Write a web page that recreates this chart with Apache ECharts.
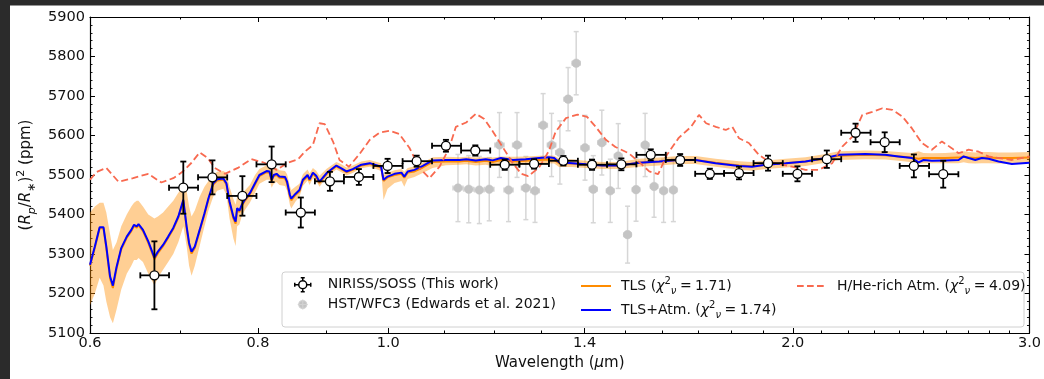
<!DOCTYPE html>
<html><head><meta charset="utf-8">
<script src="https://cdn.jsdelivr.net/npm/echarts@6/dist/echarts.min.js"></script>
<style>html,body{margin:0;padding:0;background:#fff;}#chart{width:1044px;height:379px;}</style>
</head><body><div id="chart"></div>
<script>
// ---------------- data ----------------
const xTickMajor = [0.6, 0.8, 1.0, 1.4, 2.0, 3.0];
const xTickMinor = [0.7, 0.9, 1.1, 1.2, 1.3, 1.5, 1.6, 1.7, 1.8, 1.9, 2.1, 2.2, 2.3, 2.4, 2.5, 2.6, 2.7, 2.8, 2.9];

const nirissWl = [0.670, 0.704, 0.740, 0.779, 0.819, 0.861, 0.905, 0.951, 0.999, 1.050, 1.104, 1.161, 1.221, 1.284, 1.350, 1.418, 1.491, 1.568, 1.649, 1.735, 1.824, 1.917, 2.016, 2.120, 2.227, 2.341, 2.461, 2.588];
const nirissLo = [0.654, 0.687, 0.722, 0.759, 0.798, 0.839, 0.882, 0.927, 0.975, 1.025, 1.078, 1.133, 1.191, 1.252, 1.317, 1.384, 1.455, 1.530, 1.609, 1.692, 1.778, 1.870, 1.966, 2.067, 2.173, 2.285, 2.402, 2.526];
const nirissHi = [0.687, 0.722, 0.759, 0.798, 0.839, 0.882, 0.927, 0.975, 1.025, 1.078, 1.133, 1.191, 1.252, 1.317, 1.384, 1.455, 1.530, 1.609, 1.692, 1.778, 1.870, 1.966, 2.067, 2.173, 2.285, 2.402, 2.526, 2.656];
const nirissDepth = [5246, 5468, 5494, 5447, 5527, 5405, 5484, 5495, 5523, 5535, 5574, 5562, 5526, 5528, 5536, 5526, 5527, 5551, 5538, 5503, 5505, 5530, 5503, 5540, 5607, 5583, 5523, 5502];
const nirissErr = [86, 66, 43, 50, 45, 38, 24, 20, 18, 14, 15, 13, 13, 12, 12, 13, 15, 14, 15, 13, 16, 19, 19, 22, 23, 25, 29, 34];

const hstWl = [1.127, 1.148, 1.169, 1.189, 1.210, 1.229, 1.247, 1.266, 1.286, 1.304, 1.323, 1.342, 1.361, 1.380, 1.401, 1.421, 1.442, 1.463, 1.483, 1.507, 1.529, 1.553, 1.577, 1.603, 1.630];
const hstDepth = [5467, 5464, 5462, 5464, 5576, 5462, 5576, 5467, 5460, 5626, 5576, 5557, 5692, 5783, 5569, 5464, 5582, 5460, 5548, 5349, 5463, 5576, 5471, 5460, 5462];
const hstErr = [85, 85, 85, 80, 82, 80, 82, 80, 80, 80, 80, 80, 80, 80, 82, 85, 82, 80, 82, 72, 80, 80, 78, 80, 80];
const hstHalfWidth = 0.0095;

const modelWl = [0.600,0.605,0.610,0.614,0.617,0.621,0.624,0.628,0.633,0.639,0.644,0.647,0.650,0.652,0.657,0.663,0.670,0.674,0.680,0.686,0.692,0.698,0.704,0.708,0.711,0.714,0.718,0.724,0.730,0.735,0.741,0.746,0.754,0.758,0.762,0.767,0.770,0.772,0.775,0.778,0.782,0.789,0.796,0.802,0.812,0.816,0.819,0.822,0.826,0.830,0.838,0.841,0.845,0.847,0.853,0.859,0.864,0.871,0.874,0.879,0.884,0.889,0.900,0.915,0.923,0.931,0.941,0.955,0.969,0.988,0.992,0.999,1.011,1.023,1.028,1.034,1.046,1.061,1.079,1.104,1.130,1.143,1.162,1.182,1.196,1.213,1.238,1.266,1.295,1.317,1.329,1.340,1.371,1.403,1.443,1.486,1.537,1.591,1.645,1.693,1.752,1.824,1.865,1.909,1.976,2.044,2.115,2.164,2.265,2.343,2.397,2.453,2.481,2.502,2.538,2.597,2.657,2.680,2.703,2.734,2.765,2.797,2.845,2.911,3.000];
const atmFit = [5273,5319,5368,5368,5319,5243,5220,5268,5315,5344,5361,5374,5370,5376,5361,5332,5291,5306,5323,5344,5366,5395,5437,5370,5328,5306,5319,5361,5403,5441,5479,5489,5491,5479,5433,5395,5382,5416,5410,5424,5437,5454,5479,5500,5510,5509,5488,5500,5503,5496,5495,5483,5450,5440,5452,5462,5488,5500,5489,5506,5498,5483,5505,5524,5517,5509,5515,5526,5530,5521,5488,5496,5503,5506,5496,5509,5513,5523,5537,5538,5538,5540,5537,5540,5537,5543,5538,5540,5543,5545,5543,5532,5530,5527,5524,5524,5531,5534,5538,5538,5530,5523,5521,5526,5530,5534,5543,5551,5553,5551,5547,5543,5532,5538,5536,5537,5538,5547,5543,5538,5543,5541,5534,5528,5531];
const tlsFit = [5270,5316,5365,5365,5315,5238,5214,5264,5312,5341,5358,5371,5367,5373,5358,5328,5287,5302,5320,5341,5363,5392,5433,5365,5323,5301,5315,5358,5400,5438,5476,5486,5488,5476,5429,5390,5377,5412,5406,5421,5434,5451,5476,5497,5507,5506,5485,5497,5500,5493,5492,5479,5446,5436,5449,5459,5485,5497,5486,5503,5495,5480,5503,5522,5515,5507,5513,5524,5528,5519,5485,5494,5500,5503,5493,5506,5509,5519,5533,5534,5534,5536,5533,5536,5533,5538,5534,5536,5538,5539,5538,5530,5529,5527,5524,5524,5531,5534,5538,5538,5531,5524,5522,5526,5530,5534,5542,5549,5551,5550,5547,5544,5541,5543,5543,5543,5544,5546,5544,5543,5544,5544,5543,5543,5544];
const tlsHi = [5405,5420,5430,5430,5405,5350,5310,5330,5370,5400,5420,5430,5435,5435,5420,5400,5390,5395,5405,5420,5435,5455,5470,5460,5420,5395,5410,5445,5470,5485,5500,5508,5510,5505,5470,5440,5425,5445,5440,5450,5460,5475,5500,5515,5525,5524,5512,5516,5518,5512,5510,5502,5472,5462,5470,5478,5502,5514,5504,5518,5511,5498,5516,5533,5527,5519,5524,5534,5538,5530,5500,5506,5512,5515,5508,5518,5522,5531,5545,5546,5545,5546,5544,5545,5544,5547,5546,5547,5549,5550,5549,5542,5539,5536,5533,5533,5541,5544,5548,5548,5541,5535,5533,5537,5541,5545,5553,5560,5562,5561,5558,5556,5560,5556,5555,5556,5558,5560,5558,5557,5558,5558,5557,5557,5558];
const tlsLo = [5170,5200,5240,5220,5180,5140,5125,5160,5210,5250,5270,5285,5285,5290,5280,5250,5220,5240,5260,5280,5300,5330,5370,5320,5270,5245,5270,5320,5370,5410,5445,5460,5465,5450,5390,5340,5320,5370,5375,5395,5410,5430,5455,5478,5488,5488,5468,5478,5482,5475,5472,5460,5425,5415,5432,5445,5472,5486,5475,5492,5485,5470,5494,5514,5507,5499,5505,5517,5521,5510,5437,5465,5480,5485,5470,5490,5495,5505,5518,5525,5526,5527,5524,5526,5522,5528,5526,5527,5529,5530,5529,5520,5520,5518,5515,5515,5521,5524,5528,5528,5521,5513,5511,5515,5519,5523,5531,5538,5540,5539,5536,5532,5528,5530,5530,5530,5530,5532,5530,5529,5530,5530,5529,5529,5530];

const hheWl = [0.600,0.607,0.617,0.630,0.646,0.663,0.678,0.692,0.703,0.714,0.724,0.734,0.743,0.756,0.773,0.791,0.809,0.826,0.842,0.857,0.867,0.879,0.889,0.897,0.910,0.920,0.935,0.952,0.969,0.985,1.002,1.019,1.037,1.055,1.073,1.092,1.110,1.123,1.143,1.162,1.179,1.197,1.216,1.238,1.256,1.271,1.295,1.317,1.332,1.356,1.383,1.406,1.427,1.452,1.476,1.510,1.537,1.564,1.588,1.612,1.645,1.680,1.703,1.724,1.753,1.783,1.803,1.824,1.855,1.887,1.920,1.964,1.997,2.044,2.091,2.140,2.177,2.215,2.253,2.292,2.332,2.372,2.413,2.453,2.495,2.538,2.582,2.626,2.657,2.703,2.750,2.797,2.845,2.911,3.000];
const hheFit = [5488,5508,5518,5483,5492,5503,5481,5492,5508,5531,5557,5543,5518,5503,5518,5540,5531,5513,5531,5540,5559,5576,5631,5629,5584,5538,5521,5553,5589,5607,5612,5604,5569,5518,5492,5521,5568,5622,5633,5655,5642,5609,5572,5530,5503,5497,5519,5561,5609,5644,5653,5647,5622,5589,5571,5555,5533,5509,5502,5551,5594,5622,5652,5631,5622,5614,5622,5593,5581,5551,5534,5526,5521,5513,5513,5530,5572,5597,5652,5660,5669,5665,5648,5618,5581,5564,5585,5568,5555,5564,5559,5547,5543,5538,5547];

const yTitle = '({it|R}{sub|p}/{it|R}{subn|∗}){sup|2} (ppm)';
const xTitle = 'Wavelength ({it|μ}m)';
const nameNiriss = 'NIRISS/SOSS (This work)';
const nameHst = 'HST/WFC3 (Edwards et al. 2021)';
const nameTls = 'TLS';
const nameAtm = 'TLS+Atm.';
const nameHhe = 'H/He-rich Atm.';
const chiTls = '1.71', chiAtm = '1.74', chiHhe = '4.09';

// ---------------- chart ----------------
const FONT = 'DejaVu Sans';
const TXT = '#111';
const chart = echarts.init(document.getElementById('chart'), null, {renderer: 'canvas'});

function errRender(o) {
  return function (params, api) {
    const y = api.value(1);
    const c = api.coord([api.value(0), y]);
    const l = api.coord([api.value(2), y])[0];
    const r = api.coord([api.value(3), y])[0];
    const b = api.coord([api.value(0), api.value(4)])[1];
    const t = api.coord([api.value(0), api.value(5)])[1];
    const s = {stroke: o.bar, lineWidth: o.lw};
    return {type: 'group', children: [
      {type: 'line', shape: {x1: l, y1: c[1], x2: r, y2: c[1]}, style: s},
      {type: 'line', shape: {x1: c[0], y1: t, x2: c[0], y2: b}, style: s},
      {type: 'line', shape: {x1: l, y1: c[1] - o.cap, x2: l, y2: c[1] + o.cap}, style: s},
      {type: 'line', shape: {x1: r, y1: c[1] - o.cap, x2: r, y2: c[1] + o.cap}, style: s},
      {type: 'line', shape: {x1: c[0] - o.cap, y1: t, x2: c[0] + o.cap, y2: t}, style: s},
      {type: 'line', shape: {x1: c[0] - o.cap, y1: b, x2: c[0] + o.cap, y2: b}, style: s},
      {type: 'circle', shape: {cx: c[0], cy: c[1], r: o.r}, style: {fill: o.fill, stroke: o.edge, lineWidth: o.ew}}
    ]};
  };
}

const richBase = {
  it: {fontFamily: FONT, fontStyle: 'italic', fontSize: 14, color: TXT, lineHeight: 20},
  sup: {fontFamily: FONT, fontSize: 10, color: TXT, lineHeight: 10, verticalAlign: 'top'},
  sub: {fontFamily: FONT, fontStyle: 'italic', fontSize: 10, color: TXT, lineHeight: 10, verticalAlign: 'bottom'}
};
const legendText = {};
legendText[nameTls] = nameTls + ' ({it|χ}{sup|2}{sub|ν}\u2005=\u2005' + chiTls + ')';
legendText[nameAtm] = nameAtm + ' ({it|χ}{sup|2}{sub|ν}\u2005=\u2005' + chiAtm + ')';
legendText[nameHhe] = nameHhe + ' ({it|χ}{sup|2}{sub|ν}\u2005=\u2005' + chiHhe + ')';

const nirissIcon = 'path://M0,7L0.01,7M34.99,7L35,7M7,7H11M19,7H23M15,0V3M15,11V14M7,5V9M23,5V9M13,0H17M13,14H17M19,7A4,4,0,1,1,11,7A4,4,0,1,1,19,7Z';
const hstIcon = 'path://M0,7L0.01,7M34.99,7L35,7M10,7H20M15,2V12M19,7A4,4,0,1,1,11,7A4,4,0,1,1,19,7Z';
const lineIcon = 'path://M0,0H30V2H0Z M34.99,0L35,0';
const dashIcon = 'path://M0,0H6.7V2H0Z M10,0H16.7V2H10Z M20,0H26.7V2H20Z M34.99,0L35,0';

function xAx(pos, vals, len, labels, line) {
  return {
    type: 'log', logBase: 10, min: 0.6, max: 3.0, position: pos, gridIndex: 0,
    axisLine: {show: line, onZero: false, lineStyle: {color: '#000', width: 1.2}},
    axisTick: {show: true, inside: true, length: len, customValues: vals, lineStyle: {color: '#000', width: 1}},
    axisLabel: {show: labels, customValues: vals, margin: 3, fontFamily: FONT, fontSize: 14.5, color: TXT,
      formatter: v => Number(v).toFixed(1)},
    splitLine: {show: false}, minorTick: {show: false}
  };
}
function yAx(pos, labels) {
  const a = {
    type: 'value', position: pos, min: 5100, max: 5900, interval: 100,
    axisLine: {show: true, onZero: false, lineStyle: {color: '#000', width: 1.2}},
    axisTick: {show: true, inside: true, length: 5, lineStyle: {color: '#000', width: 1}},
    minorTick: {show: true, splitNumber: 5, length: 2.5, lineStyle: {color: '#000', width: 0.9}},
    axisLabel: {show: labels, margin: 5, fontFamily: FONT, fontSize: 14.5, color: TXT, formatter: v => String(v)},
    splitLine: {show: false}
  };
  if (labels) {
    a.name = yTitle; a.nameLocation = 'middle'; a.nameRotate = 90; a.nameGap = 46;
    a.nameTextStyle = {fontFamily: FONT, fontSize: 15, color: TXT, lineHeight: 22, rich: {
      it: {fontFamily: FONT, fontStyle: 'italic', fontSize: 15, color: TXT, lineHeight: 22},
      sub: {fontFamily: FONT, fontStyle: 'italic', fontSize: 11, color: TXT, lineHeight: 11, verticalAlign: 'bottom'},
      subn: {fontFamily: FONT, fontSize: 11, color: TXT, lineHeight: 11, verticalAlign: 'bottom'},
      sup: {fontFamily: FONT, fontSize: 11, color: TXT, lineHeight: 11, verticalAlign: 'top'}
    }};
  }
  return a;
}

const xMain = xAx('bottom', xTickMajor, 5, true, true);
xMain.name = xTitle; xMain.nameLocation = 'middle'; xMain.nameGap = 22;
xMain.nameTextStyle = {fontFamily: FONT, fontSize: 15, color: TXT, rich: {
  it: {fontFamily: FONT, fontStyle: 'italic', fontSize: 15, color: TXT}}};

const option = {
  animation: false,
  backgroundColor: '#ffffff',
  grid: {left: 90, right: 12, top: 17, bottom: 46, containLabel: false},
  xAxis: [xMain, xAx('bottom', xTickMinor, 2.5, false, false), xAx('top', xTickMajor, 5, false, true), xAx('top', xTickMinor, 2.5, false, false)],
  yAxis: [yAx('left', true), yAx('right', false)],
  legend: [
    {orient: 'vertical', left: 287, top: 277, itemWidth: 35, itemHeight: 14, itemGap: 5, padding: 0, selectedMode: false, z: 5,
      data: [
        {name: nameNiriss, icon: nirissIcon, itemStyle: {color: '#ffffff', borderColor: '#000', borderWidth: 1.5}},
        {name: nameHst, icon: hstIcon, itemStyle: {color: '#c4c4c4', borderColor: '#d2d2d2', borderWidth: 1.2}}
      ],
      textStyle: {fontFamily: FONT, fontSize: 14, color: TXT}},
    {orient: 'vertical', left: 581, top: 276, itemWidth: 35, itemHeight: 2, itemGap: 4, padding: 0, selectedMode: false, z: 5,
      data: [
        {name: nameTls, icon: lineIcon, itemStyle: {color: '#ff8c00', borderWidth: 0}},
        {name: nameAtm, icon: lineIcon, itemStyle: {color: '#0000ff', borderWidth: 0}}
      ],
      formatter: n => legendText[n],
      textStyle: {fontFamily: FONT, fontSize: 14, color: TXT, lineHeight: 20, rich: richBase}},
    {orient: 'vertical', left: 797, top: 276, itemWidth: 35, itemHeight: 2, itemGap: 4, padding: 0, selectedMode: false, z: 5,
      data: [{name: nameHhe, icon: dashIcon, itemStyle: {color: '#f8694f', borderWidth: 0}}],
      formatter: n => legendText[n],
      textStyle: {fontFamily: FONT, fontSize: 14, color: TXT, lineHeight: 20, rich: richBase}}
  ],
  graphic: [
    {type: 'rect', z: 100, silent: true, shape: {x: 0, y: 0, width: 1044, height: 5.5}, style: {fill: '#2b2b2b'}},
    {type: 'rect', z: 100, silent: true, shape: {x: 0, y: 0, width: 10, height: 379}, style: {fill: '#2b2b2b'}},
    {type: 'rect', z: 4, silent: true, shape: {x: 282, y: 272, width: 742, height: 55, r: 3}, style: {fill: 'rgba(255,255,255,0.85)', stroke: '#d0d0d0', lineWidth: 1}}
  ],
  series: [
    {name: nameHst, type: 'custom', z: 1, clip: true,
      renderItem: errRender({bar: '#d6d6d6', lw: 1.5, cap: 2.5, r: 4.3, fill: '#c4c4c4', edge: '#c4c4c4', ew: 0.5}),
      itemStyle: {color: '#c4c4c4'}, encode: {x: 0, y: 1},
      data: hstWl.map((w, i) => [w, hstDepth[i], w - hstHalfWidth, w + hstHalfWidth, hstDepth[i] - hstErr[i], hstDepth[i] + hstErr[i]])},
    {name: 'TLS band', type: 'custom', z: 2, clip: true, encode: {x: 0, y: 1},
      renderItem: function (params, api) {
        if (params.dataIndex !== 0) return null;
        const pts = [];
        for (let i = 0; i < modelWl.length; i++) pts.push(api.coord([modelWl[i], tlsHi[i]]));
        for (let i = modelWl.length - 1; i >= 0; i--) pts.push(api.coord([modelWl[i], tlsLo[i]]));
        return {type: 'polygon', shape: {points: pts}, style: {fill: 'rgba(255,140,0,0.42)'}};
      },
      data: modelWl.map((w, i) => [w, tlsFit[i]])},
    {name: nameTls, type: 'line', z: 2, showSymbol: false, symbol: 'none', color: '#ff8c00',
      lineStyle: {color: '#ff8c00', width: 2}, data: modelWl.map((w, i) => [w, tlsFit[i]])},
    {name: nameAtm, type: 'line', z: 2, showSymbol: false, symbol: 'none', color: '#0000ff',
      lineStyle: {color: '#0000ff', width: 2}, data: modelWl.map((w, i) => [w, atmFit[i]])},
    {name: nameHhe, type: 'line', z: 2, showSymbol: false, symbol: 'none', color: '#f8694f',
      lineStyle: {color: '#f8694f', width: 1.8, type: [7, 3.5]}, data: hheWl.map((w, i) => [w, hheFit[i]])},
    {name: nameNiriss, type: 'custom', z: 3, clip: true,
      renderItem: errRender({bar: '#000', lw: 1.8, cap: 3, r: 4.5, fill: '#fff', edge: '#000', ew: 1.3}),
      itemStyle: {color: '#000'}, encode: {x: 0, y: 1},
      data: nirissWl.map((w, i) => [w, nirissDepth[i], nirissLo[i], nirissHi[i], nirissDepth[i] - nirissErr[i], nirissDepth[i] + nirissErr[i]])}
  ]
};
chart.setOption(option);
</script></body></html>
